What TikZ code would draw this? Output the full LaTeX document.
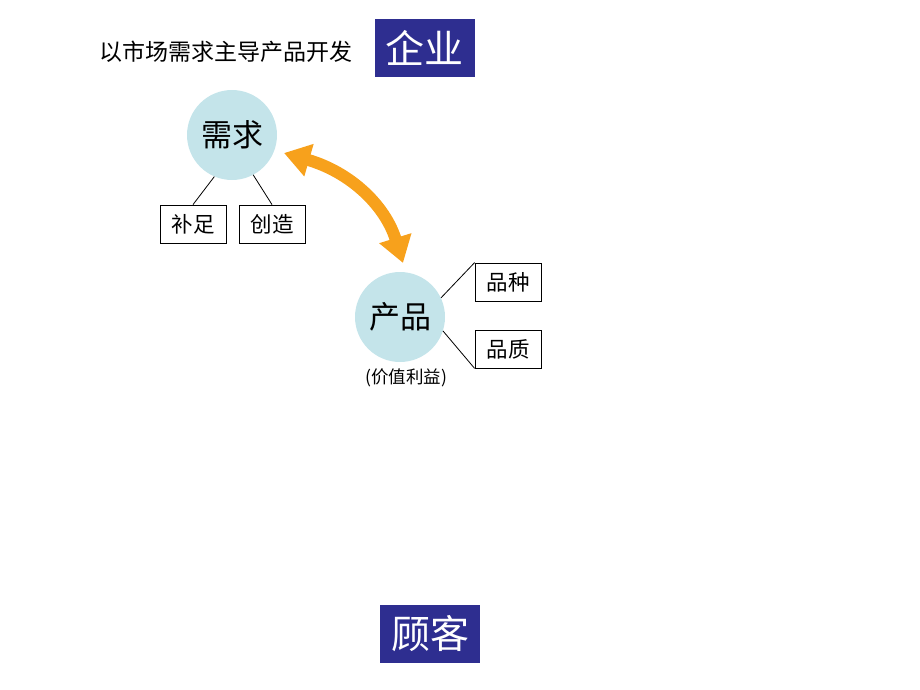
\documentclass[tikz,border=0pt]{standalone}
\usepackage{fontspec}
\setmainfont{Noto Sans CJK SC}
\usetikzlibrary{arrows.meta}
\definecolor{partyblue}{HTML}{2E2E90}
\definecolor{topicblue}{HTML}{C4E4EA}
\definecolor{flow}{HTML}{F7A11C}
\begin{document}
\begin{tikzpicture}
  [x=1pt,y=-1pt,
   party/.style={fill=partyblue,text=white,font=\fontsize{39}{39}\selectfont,minimum width=100,minimum height=58,inner sep=0},
   topic/.style={circle,fill=topicblue,minimum size=90,inner sep=0,font=\fontsize{31}{31}\selectfont},
   item/.style={draw,line width=0.8pt,fill=white,minimum width=66,minimum height=38,inner sep=0,font=\fontsize{21.5}{21.5}\selectfont}]
  \useasboundingbox (0,0) rectangle (920,690);
  \node[font=\fontsize{23}{23}\selectfont] (title) at (226,52) {以市场需求主导产品开发};
  \node[party] (firm) at (424.5,48) {企业};
  \node[party] (client) at (430,634) {顾客};

  \node[topic] (need) at (232,135) {需求};
  \node[item] (bz) at (193,224) {补足};
  \node[item] (cz) at (272,224) {创造};

  \node[topic] (prod) at (400,317) {产品};
  \node[font=\fontsize{17.5}{17.5}\selectfont] (value) at (406,378) {(价值利益)};
  \node[item] (pz) at (508,282) {品种};
  \node[item] (qz) at (508,349) {品质};

  \foreach \from/\to in {need.247/bz.north,need.298/cz.north,prod.25/pz.north west,prod.342/qz.south west}
    \draw[line width=0.8pt] (\from) -- (\to);

  \coordinate (a1) at (284,153);
  \coordinate (a2) at (403,263);
  \draw[flow,line width=12pt,{Triangle[width=32pt,length=26pt]}-{Triangle[width=32pt,length=26pt]}]
    (a1) .. controls (350,172) and (385,205) .. (a2);
\end{tikzpicture}
\end{document}
